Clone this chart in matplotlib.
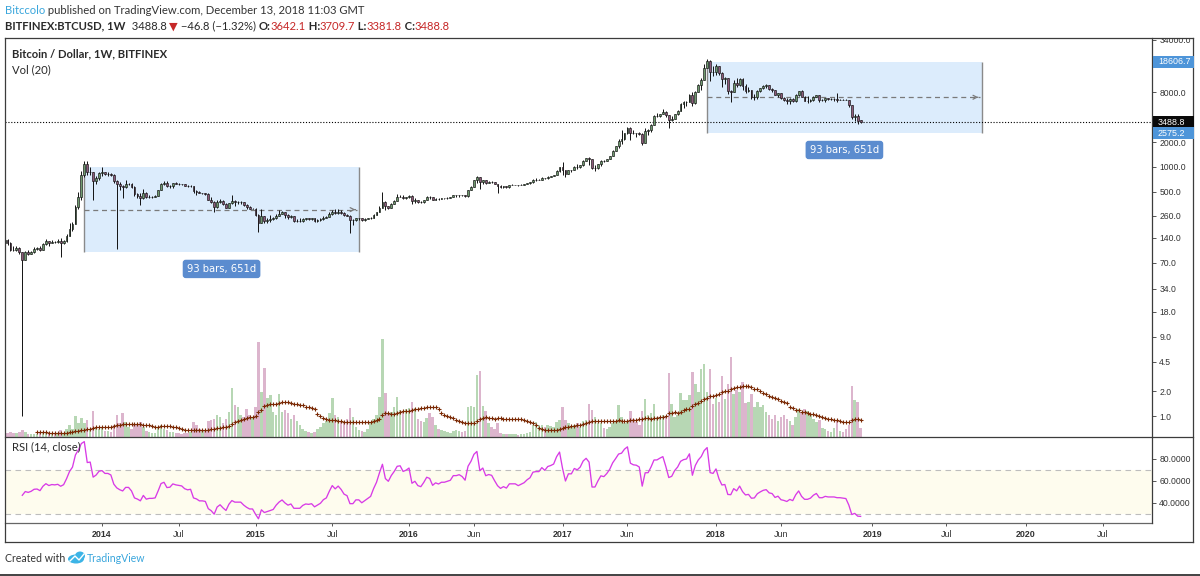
import numpy as np
import pandas as pd
import matplotlib
matplotlib.use("Agg")
import matplotlib.pyplot as plt
from matplotlib.patches import Rectangle, Ellipse
from matplotlib.lines import Line2D
from matplotlib.ticker import FixedLocator, FixedFormatter, NullLocator

# ---------------- data (weekly BITFINEX:BTCUSD) ----------------
start_week = "2013-03-25"
first_open = 72.0
last_open = 3642.1

close_2013 = [93, 162, 90, 125, 128, 115, 117, 122, 133, 122, 101, 99, 107, 94, 76, 94, 90, 95, 104, 105,
              99, 117, 128, 122, 126, 125, 127, 122, 127, 148, 180, 205, 330, 440, 800, 1080, 860, 880, 670, 730, 850]
high_2013 = [96, 170, 266, 130, 165, 150, 125, 125, 135, 135, 124, 111, 112, 108, 94, 98, 99, 98, 108, 109,
             113, 121, 135, 130, 132, 130, 136, 140, 133, 155, 210, 215, 345, 500, 900, 1175, 1165, 1000, 880, 780, 870]
low_2013 = [70, 93, 50, 65, 115, 80, 108, 110, 118, 115, 98, 96, 97, 89, 1.0, 75, 87, 89, 93, 100,
            97, 99, 115, 113, 120, 121, 123, 82, 118, 126, 148, 170, 205, 315, 400, 750, 800, 800, 400, 620, 700]

close_2014 = [870, 830, 830, 810, 680, 620, 590, 570, 630, 630, 580, 470, 450, 420, 490, 430, 440, 440, 445, 525,
              630, 650, 590, 595, 640, 630, 625, 620, 595, 585, 590, 510, 500, 480, 480, 475, 400, 375, 330, 375,
              390, 355, 325, 365, 390, 375, 375, 375, 350, 330, 315, 315]
high_2014 = [1000, 880, 870, 850, 820, 700, 660, 600, 700, 650, 640, 590, 490, 480, 550, 500, 460, 450, 455, 530,
             640, 670, 670, 610, 650, 660, 640, 630, 625, 600, 600, 590, 530, 520, 490, 485, 480, 440, 390, 400,
             410, 395, 365, 370, 460, 400, 385, 385, 380, 355, 340, 325]
low_2014 = [780, 800, 780, 780, 640, 102, 530, 420, 560, 610, 560, 450, 420, 350, 410, 420, 420, 420, 430, 445,
            525, 610, 580, 560, 560, 620, 610, 610, 585, 575, 575, 480, 460, 480, 470, 465, 395, 370, 290, 320,
            370, 345, 320, 320, 355, 340, 360, 360, 340, 310, 310, 310]

close_2015 = [265, 210, 255, 225, 230, 235, 240, 260, 275, 285, 265, 250, 255, 225, 225, 225, 235, 240, 238, 240,
              225, 230, 235, 245, 250, 270, 290, 280, 290, 280, 265, 260, 230, 230, 240, 240, 230, 235, 240, 245,
              265, 285, 325, 380, 335, 325, 360, 390, 435, 440, 420, 430]
high_2015 = [320, 275, 310, 260, 245, 265, 250, 275, 300, 297, 290, 275, 265, 260, 235, 240, 240, 245, 245, 243,
             240, 235, 240, 255, 260, 285, 300, 310, 310, 300, 285, 270, 265, 235, 245, 245, 240, 240, 245, 250,
             270, 290, 335, 500, 390, 340, 370, 400, 470, 465, 460, 440]
low_2015 = [260, 165, 210, 210, 210, 215, 230, 235, 260, 270, 245, 235, 240, 220, 215, 215, 215, 230, 232, 230,
            220, 220, 225, 230, 240, 250, 265, 275, 275, 275, 258, 255, 160, 200, 225, 228, 225, 225, 235, 235,
            245, 265, 285, 320, 300, 315, 320, 355, 390, 430, 410, 415]

close_2016 = [448, 387, 400, 380, 375, 400, 435, 430, 400, 415, 410, 420, 420, 425, 430, 455, 455, 460, 455, 445,
              530, 580, 690, 760, 660, 700, 650, 665, 660, 625, 590, 570, 585, 575, 610, 610, 610, 600, 610, 620,
              640, 655, 700, 705, 705, 740, 730, 765, 775, 790, 890, 995]
high_2016 = [465, 455, 420, 400, 390, 405, 445, 445, 440, 420, 420, 425, 425, 430, 435, 460, 465, 465, 465, 460,
             535, 590, 700, 780, 760, 705, 705, 680, 680, 660, 625, 600, 590, 590, 615, 630, 615, 610, 620, 625,
             645, 665, 710, 745, 725, 750, 745, 775, 785, 800, 910, 1000]
low_2016 = [420, 360, 370, 365, 365, 370, 400, 410, 395, 395, 405, 410, 410, 415, 420, 430, 440, 440, 445, 435,
            440, 525, 570, 650, 550, 620, 620, 645, 650, 620, 480, 560, 565, 565, 565, 600, 600, 595, 600, 605,
            620, 630, 650, 680, 690, 700, 725, 725, 760, 770, 790, 880]

close_2017 = [910, 820, 920, 920, 1010, 1000, 1050, 1190, 1270, 1240, 970, 970, 1080, 1190, 1180, 1250, 1360, 1580, 1780, 2080,
              2150, 2580, 2960, 2600, 2560, 2550, 2510, 1970, 2750, 2760, 3240, 4070, 4080, 4340, 4580, 4200, 3680, 3790, 4370, 4790,
              5680, 6000, 6130, 7400, 5900, 8000, 9800, 11300, 15500, 19100, 14000, 13800]
high_2017 = [1140, 915, 930, 930, 1040, 1080, 1060, 1200, 1290, 1330, 1260, 1060, 1090, 1210, 1210, 1260, 1370, 1600, 1800, 2200,
             2790, 2600, 3000, 3000, 2770, 2600, 2650, 2550, 2950, 2850, 3280, 4200, 4480, 4400, 4970, 4700, 4250, 4100, 4400, 4800,
             5850, 6200, 6300, 7600, 7900, 8300, 9900, 11800, 17200, 19891, 19300, 16500]
low_2017 = [810, 750, 815, 880, 915, 940, 980, 1040, 1180, 1060, 950, 900, 950, 1040, 1160, 1180, 1240, 1340, 1550, 1700,
            1900, 2100, 2500, 2100, 2500, 2300, 2450, 1850, 1950, 2430, 2650, 3200, 3980, 3950, 4300, 4000, 2970, 3550, 3750, 4200,
            4780, 5100, 5400, 6100, 5500, 5800, 7900, 8500, 11100, 15500, 11000, 12500]

close_2018 = [16300, 13600, 11600, 11800, 8200, 8100, 10400, 9600, 11500, 9500, 8200, 8400, 6900, 7000, 8300, 8900, 9400, 9600, 8700, 8500,
              7400, 7700, 6700, 6500, 6200, 6600, 6300, 7400, 8200, 7000, 6300, 6300, 6500, 7000, 7300, 6500, 6500, 6700, 6600, 6600,
              6600, 6500, 6500, 6450, 6400, 5600, 4000, 4100, 3535.6, 3488.8]
high_2018 = [17300, 16300, 14100, 12000, 11800, 8500, 11100, 11800, 11700, 11700, 9900, 9200, 8500, 7500, 8500, 9000, 9750, 9900, 9600, 8900,
             8500, 7800, 7800, 6900, 6800, 6700, 6800, 7500, 8300, 8500, 7100, 7100, 6600, 7100, 7400, 7400, 6600, 6800, 6700, 6700,
             6800, 7800, 6600, 6550, 6600, 6500, 5600, 4400, 4300, 3709.7]
low_2018 = [12800, 12800, 9200, 10000, 7600, 6000, 8100, 9300, 9400, 8500, 7800, 7900, 6600, 6500, 6600, 7900, 8700, 9000, 8400, 7950,
            7300, 7000, 6600, 6300, 5800, 5800, 6100, 6100, 7200, 6900, 6200, 5900, 6000, 6200, 6900, 6100, 6200, 6100, 6400, 6400,
            6200, 6100, 6450, 6350, 6350, 5300, 3800, 3600, 3300, 3381.8]

# weekly volume (thousand BTC)
vol_2013 = [6, 9, 14, 10, 6, 6, 4, 3, 3, 4, 5, 4, 4, 5, 7, 5, 3, 3, 3, 3,
            4, 5, 5, 4, 3, 3, 3, 7, 4, 8, 12, 8, 21, 14, 19, 14, 17, 8, 26, 10, 8]
vol_2014 = [9, 6, 6, 5, 12, 22, 14, 24, 15, 10, 8, 13, 12, 15, 10, 6, 5, 4, 4, 10,
            12, 8, 7, 5, 5, 4, 4, 3, 4, 4, 5, 15, 12, 8, 6, 6, 16, 17, 18, 22,
            20, 14, 18, 25, 49, 32, 30, 22, 20, 28, 22, 20]
vol_2015 = [30, 95, 45, 69, 39, 42, 25, 22, 43, 25, 27, 24, 18, 22, 16, 12, 8, 6, 5, 4,
            5, 8, 10, 14, 16, 24, 39, 22, 20, 16, 14, 18, 29, 20, 10, 7, 6, 5, 8, 15,
            18, 22, 40, 98, 44, 24, 25, 30, 40, 27, 26, 28]
vol_2016 = [29, 35, 29, 18, 16, 15, 19, 24, 20, 12, 8, 7, 6, 5, 4, 6, 7, 6, 5, 6,
            30, 31, 30, 62, 66, 31, 26, 14, 10, 8, 14, 4, 3, 3, 3, 3, 3, 2, 3, 3,
            4, 5, 12, 15, 12, 12, 10, 12, 11, 10, 15, 17]
vol_2017 = [30, 17, 14, 10, 12, 14, 10, 16, 17, 33, 27, 20, 14, 14, 9, 8, 10, 14, 16, 32,
            20, 14, 16, 26, 18, 15, 12, 26, 38, 22, 24, 33, 20, 19, 22, 20, 64, 33, 20, 22,
            44, 37, 37, 42, 65, 53, 45, 68, 73, 45, 68, 33]
vol_2018 = [39, 35, 61, 38, 53, 80, 43, 47, 45, 55, 34, 35, 43, 30, 35, 30, 32, 25, 22, 18,
            22, 16, 20, 22, 18, 16, 12, 20, 28, 25, 28, 26, 22, 18, 15, 17, 9, 8, 6, 5,
            9, 17, 6, 5, 8, 12, 51, 37, 35, 9]

# date-range drawings
range_start_weeks = ["2013-11-25", "2017-12-11"]
range_bars = 93
range_top = [990, 18606.7]
range_bottom = [95, 2575.2]
range_label = "93 bars, 651d"

time_tick_months = ["2014-01", "2014-07", "2015-01", "2015-07", "2016-01", "2016-06", "2017-01",
                    "2017-06", "2018-01", "2018-06", "2019-01", "2019-07", "2020-01", "2020-07"]
time_tick_labels = ["2014", "Jul", "2015", "Jul", "2016", "Jun", "2017", "Jun", "2018", "Jun",
                    "2019", "Jul", "2020", "Jul"]
price_ticks = [34000, 8000, 2000, 1000, 500, 260, 140, 70, 34, 18, 9, 4.5, 2, 1]
rsi_ticks = [80, 60, 40]

# ---------------- assemble ----------------
closes = np.array(close_2013 + close_2014 + close_2015 + close_2016 + close_2017 + close_2018, float)
highs = np.array(high_2013 + high_2014 + high_2015 + high_2016 + high_2017 + high_2018, float)
lows = np.array(low_2013 + low_2014 + low_2015 + low_2016 + low_2017 + low_2018, float)
volume = np.array(vol_2013 + vol_2014 + vol_2015 + vol_2016 + vol_2017 + vol_2018, float)
opens = np.concatenate([[first_open], closes[:-1]])
opens[-1] = last_open
n_bars = len(closes)
xb = np.arange(n_bars)
weeks = pd.date_range(start_week, periods=420, freq="7D")

# RSI(14) Wilder
period = 14
delta = np.diff(closes)
gain = np.where(delta > 0, delta, 0.0)
loss = np.where(delta < 0, -delta, 0.0)
rsi = np.full(n_bars, np.nan)
ag, al = gain[:period].mean(), loss[:period].mean()
rsi[period] = 100 - 100 / (1 + ag / al)
for k in range(period + 1, n_bars):
    ag = (ag * (period - 1) + gain[k - 1]) / period
    al = (al * (period - 1) + loss[k - 1]) / period
    rsi[k] = 100 - 100 / (1 + ag / al)
vol_ma = pd.Series(volume).rolling(20).mean().to_numpy()

# ---------------- figure layout ----------------
W, H = 1200, 576
fig = plt.figure(figsize=(W / 100, H / 100), dpi=100)
fig.patch.set_facecolor("white")


def fx(px):
    return px / W


def fy(py):
    return 1 - py / H


PL, PR = 5, 1152
MT, MB = 38, 437
RB = 523
OR, OB = 1193, 542
AXIS_FONT = "Liberation Sans"
UI_FONT = ["Lato", "DejaVu Sans"]

main_rect = [fx(PL), fy(MB), (PR - PL) / W, (MB - MT) / H]
ax_vol = fig.add_axes(main_rect)
ax = fig.add_axes(main_rect, sharex=ax_vol)
ax.patch.set_alpha(0)
ax_rsi = fig.add_axes([fx(PL), fy(RB), (PR - PL) / W, (RB - MB) / H], sharex=ax_vol)

view_left, view_right = 8.14, 396.7
up = closes >= opens
GREEN_VOL, PINK_VOL = "#b7d7b4", "#dcb5cd"
UP_BODY, DOWN_BODY = "#6f9a6f", "#8e5a7a"

# volume
ax_vol.bar(xb, volume, width=0.85, color=np.where(up, GREEN_VOL, PINK_VOL), linewidth=0, zorder=1)
ax_vol.plot(xb, vol_ma, linestyle="none", marker="+", ms=2.2, mew=0.8, color="#7b2a05", zorder=2)
ax_vol.set_ylim(0, MB - MT)
ax_vol.set_xlim(view_left, view_right)
ax_vol.axis("off")

# price pane
ax.set_yscale("log")
ax.set_xlim(view_left, view_right)
ax.set_ylim(10 ** ((416 - MB) / 83), 10 ** ((416 - MT) / 83))

for s, top, bot in zip(range_start_weeks, range_top, range_bottom):
    i0 = int(weeks.searchsorted(pd.Timestamp(s)))
    i1 = i0 + range_bars
    ax.add_patch(Rectangle((i0, bot), i1 - i0, top - bot, facecolor="#dcecfc", edgecolor="none", zorder=1))
    ax.vlines([i0, i1], bot, top, color="#8a8a8a", lw=1.0, zorder=2)
    mid = np.sqrt(top * bot)
    ax.plot([i0, i1 - 0.6], [mid, mid], color="#7a7a7a", lw=0.9, dashes=(4, 3), zorder=2)
    ax.annotate("", xy=(i1 - 0.2, mid), xytext=(i1 - 2.2, mid),
                arrowprops=dict(arrowstyle="->", color="#7a7a7a", lw=0.9, mutation_scale=7), zorder=2)
    ax.annotate(range_label, xy=((i0 + i1) / 2, bot), xytext=(0, -12.3), textcoords="offset points",
                ha="center", va="center", fontsize=7.2, color="white", family="DejaVu Sans",
                bbox=dict(boxstyle="round,pad=0.42,rounding_size=0.3", fc="#5b8ccf", ec="none"), zorder=6)

# last price dotted line
ax.axhline(closes[-1], color="black", lw=0.8, dashes=(1, 1.6), zorder=3)

# candles
ax.vlines(xb, lows, highs, color="#111111", lw=0.7, zorder=4)
body_lo = np.minimum(opens, closes)
body_hi = np.maximum(opens, closes)
ax.bar(xb, body_hi - body_lo, bottom=body_lo, width=0.62,
       color=np.where(up, UP_BODY, DOWN_BODY), edgecolor="#111111", linewidth=0.45, zorder=5)

ax.yaxis.tick_right()
ax.yaxis.set_major_locator(FixedLocator(price_ticks))
ax.yaxis.set_major_formatter(FixedFormatter(["%.1f" % v for v in price_ticks]))
ax.yaxis.set_minor_locator(NullLocator())
ax.tick_params(axis="y", which="major", direction="out", length=3, width=0.7, color="#555555",
               pad=2.2, labelsize=6.2, labelcolor="#333333")
for lab in ax.get_yticklabels():
    lab.set_family(AXIS_FONT)
ax.tick_params(axis="x", which="both", bottom=False, labelbottom=False)
for sp in ax.spines.values():
    sp.set_visible(False)

# RSI pane
ax_rsi.set_ylim(21.8, 100)
ax_rsi.axhspan(30, 70, color="#fefcee", lw=0, zorder=0)
ax_rsi.axhline(70, color="#bdbdbd", lw=0.8, dashes=(5, 4), zorder=1)
ax_rsi.axhline(30, color="#bdbdbd", lw=0.8, dashes=(5, 4), zorder=1)
ax_rsi.plot(xb, rsi, color="#d83be6", lw=0.95, zorder=3)
ax_rsi.yaxis.tick_right()
ax_rsi.yaxis.set_major_locator(FixedLocator(rsi_ticks))
ax_rsi.yaxis.set_major_formatter(FixedFormatter(["%.4f" % v for v in rsi_ticks]))
ax_rsi.tick_params(axis="y", direction="out", length=3, width=0.7, color="#555555", pad=2.2,
                   labelsize=6.2, labelcolor="#333333")
tick_pos = [int(weeks.searchsorted(pd.Timestamp(m + "-01"))) for m in time_tick_months]
ax_rsi.xaxis.set_major_locator(FixedLocator(tick_pos))
ax_rsi.xaxis.set_major_formatter(FixedFormatter(time_tick_labels))
ax_rsi.tick_params(axis="x", direction="out", length=2.5, width=0.7, color="#555555", pad=2.6,
                   labelsize=6.4, labelcolor="#333333")
for lab in ax_rsi.get_xticklabels():
    lab.set_family(AXIS_FONT)
    if lab.get_text().isdigit():
        lab.set_fontweight("bold")
for lab in ax_rsi.get_yticklabels():
    lab.set_family(AXIS_FONT)
for sp in ax_rsi.spines.values():
    sp.set_visible(False)
ax_rsi.set_xlim(view_left, view_right)

# ---------------- figure-level decorations ----------------
fig.add_artist(Rectangle((0, fy(MT)), 1, 1 - fy(MT), transform=fig.transFigure, fc="white", ec="none", zorder=1))

frame_col = "#3c3c3c"


def hline(y, x0, x1, col=frame_col, lw=0.9):
    fig.add_artist(Line2D([fx(x0), fx(x1)], [fy(y), fy(y)], color=col, lw=lw, zorder=5))


def vline(x, y0, y1, col=frame_col, lw=0.9):
    fig.add_artist(Line2D([fx(x), fx(x)], [fy(y0), fy(y1)], color=col, lw=lw, zorder=5))


hline(MT, PL, OR)
hline(MB, PL, OR)
hline(RB, PL, PR, col="#666666")
hline(OB, PL, OR)
vline(PL, MT, OB)
vline(PR, MT, RB)
vline(OR, MT, OB)
hline(575, 0, W, col="#222222", lw=1.2)


# price-axis labels (boxes)
def price_y_px(p):
    return H - ax.transData.transform((view_left, p))[1]


def axis_box(price, text, bg, fg="white"):
    yc = price_y_px(price)
    fig.add_artist(Rectangle((fx(PR + 1), fy(yc + 6)), (OR - PR) / W, 12 / H, transform=fig.transFigure,
                             fc=bg, ec="none", zorder=6))
    fig.text(fx(PR + 6), fy(yc + 0.3), text, color=fg, fontsize=6.4, family=AXIS_FONT,
             va="center", ha="left", zorder=7)


axis_box(range_top[1], "%.1f" % range_top[1], "#4e95d9")
axis_box(closes[-1], "%.1f" % closes[-1], "#0a0a0a")
axis_box(range_bottom[1], "%.1f" % range_bottom[1], "#4e95d9")

renderer = fig.canvas.get_renderer()


def runs(x_px, y_px, parts, size, family=UI_FONT):
    x = x_px
    for txt, color, weight in parts:
        t = fig.text(fx(x), fy(y_px), txt, color=color, fontsize=size, fontweight=weight,
                     family=family, va="center", ha="left", zorder=8)
        x += t.get_window_extent(renderer).width
    return x


dark = "#2a2a2a"
red = "#c62828"
HDR = 8.15
runs(5, 10, [("Bitccolo", "#3aa6dc", "normal"),
             (" published on TradingView.com, December 13, 2018 11:03 GMT", "#333333", "normal")], HDR)
runs(5, 26, [("BITFINEX:BTCUSD, 1W", dark, "bold"), ("  3488.8 ", dark, "normal"), ("\u25bc", red, "normal"),
             (" \u221246.8 (\u22121.32%) ", dark, "normal"), ("O:", dark, "bold"), ("3642.1", red, "normal"),
             (" H:", dark, "bold"), ("3709.7", red, "normal"), (" L:", dark, "bold"), ("3381.8", red, "normal"),
             (" C:", dark, "bold"), ("3488.8", red, "normal")], HDR)

fig.text(fx(12), fy(54), "Bitcoin / Dollar, 1W, BITFINEX", fontsize=8.1, fontweight="bold", color=dark,
         family=UI_FONT, va="center", ha="left", zorder=8)
fig.text(fx(12), fy(70), "Vol (20)", fontsize=8.1, color=dark, family=UI_FONT, va="center", ha="left", zorder=8)
fig.text(fx(12), fy(447), "RSI (14, close)", fontsize=8.1, color=dark, family=UI_FONT, va="center", ha="left", zorder=8)

# footer "Created with TradingView"
xe = runs(5, 558, [("Created with ", "#333333", "normal")], 7.6)
fig.add_artist(Ellipse((fx(xe + 8), fy(559)), 16 / W, 9 / H, transform=fig.transFigure, fc="#3cb4e6", ec="none", zorder=8))
fig.add_artist(Ellipse((fx(xe + 12), fy(556)), 10 / W, 9 / H, transform=fig.transFigure, fc="#3cb4e6", ec="none", zorder=8))
fig.add_artist(Line2D([fx(xe + 2), fx(xe + 7), fx(xe + 11), fx(xe + 16)], [fy(561), fy(556), fy(560), fy(554)],
                      color="white", lw=1.0, zorder=9, transform=fig.transFigure))
runs(xe + 19, 558, [("TradingView", "#3aa6dc", "normal")], 7.6)

fig.savefig("out.png", dpi=100, facecolor="white")
